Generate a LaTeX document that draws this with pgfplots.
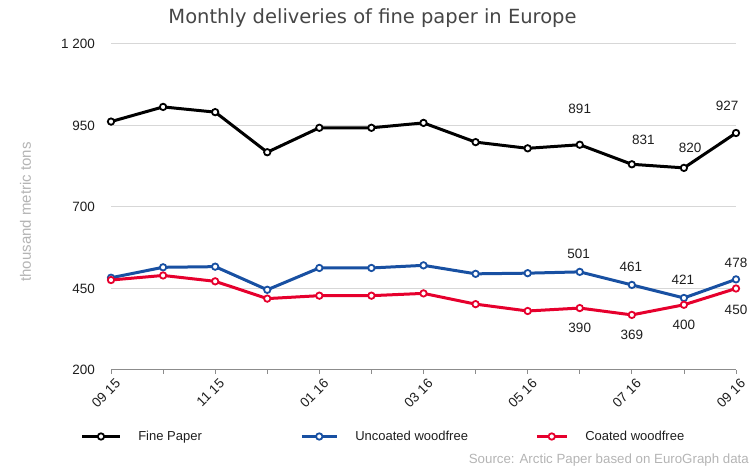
\documentclass[border=0pt]{standalone}
\usepackage{fontspec}
\setmainfont{Liberation Sans}
\newfontfamily\titlefont{DejaVu Sans}
\usepackage{pgfplots}
\pgfplotsset{compat=1.18}
\definecolor{fineC}{RGB}{0,0,0}
\definecolor{uncC}{RGB}{24,80,162}
\definecolor{coatC}{RGB}{230,0,45}
\definecolor{gridC}{RGB}{215,215,215}
\definecolor{axC}{RGB}{140,140,140}
\definecolor{txtC}{RGB}{30,30,30}
\definecolor{titleC}{RGB}{70,70,70}
\definecolor{srcC}{RGB}{180,180,180}
\newcommand{\tfs}{\fontsize{13.5bp}{16bp}\selectfont}
\pgfplotsset{
  fineimg/.style={legend image code/.code={\draw[##1, mark repeat=2, mark phase=2] plot coordinates {(0bp,0bp) (18.8bp,0bp) (37.6bp,0bp)};}},
  uncimg/.style={legend image code/.code={\draw[##1, mark repeat=2, mark phase=2] plot coordinates {(0bp,0bp) (17.5bp,0bp) (35bp,0bp)};}},
  coatimg/.style={legend image code/.code={\draw[##1, mark repeat=2, mark phase=2] plot coordinates {(0bp,0bp) (15bp,0bp) (30bp,0bp)};}},
}
\begin{document}
\begin{tikzpicture}
\useasboundingbox (0,0) rectangle (754bp,470bp);
\begin{axis}[
  scale only axis,
  width=625bp, height=326bp,
  at={(111bp,100bp)}, anchor=south west,
  xmin=0, xmax=12, ymin=200, ymax=1200,
  clip=false,
  separate axis lines,
  axis x line*=bottom,
  axis y line*=left,
  y axis line style={draw=none},
  x axis line style={draw=axC, line width=1bp},
  xtick={0,...,12},
  xticklabels={09 15,,11 15,,01 16,,03 16,,05 16,,07 16,,09 16},
  ytick={200,450,700,950,1200},
  yticklabels={200,450,700,950,{1 200}},
  tick align=outside,
  xtick style={draw=axC, line width=0.8bp},
  ytick style={draw=none},
  major tick length=4bp,
  ymajorgrids,
  grid style={draw=gridC, line width=1bp},
  tick label style={font=\tfs, text=txtC},
  yticklabel style={inner sep=0pt, xshift=-12bp},
  xticklabel style={rotate=45, anchor=north east, inner sep=0pt, yshift=-5bp, xshift=0bp},
  every axis plot/.append style={line width=3bp, mark=*, mark size=3.2bp},
  legend columns=3,
  legend style={draw=none, fill=none, font=\fontsize{13bp}{15bp}\selectfont, text=txtC,
    at={(rel axis cs:-0.0485,-0.204)}, anchor=west, inner sep=0pt, outer sep=0pt,
    cells={anchor=west},
    /tikz/every odd column/.append style={column sep=15bp},
    /tikz/every even column/.append style={column sep=0bp}},
]
\addplot[color=fineC, mark options={fill=white, draw=fineC, line width=1.8bp}, fineimg]
  coordinates {(0,962) (1,1007) (2,991) (3,868) (4,943) (5,943) (6,958) (7,899) (8,880) (9,891) (10,831) (11,820) (12,927)};
\addlegendentry{\makebox[160bp][l]{Fine Paper}}
\addplot[color=uncC, mark options={fill=white, draw=uncC, line width=1.8bp}, uncimg]
  coordinates {(0,483) (1,515) (2,517) (3,446) (4,513) (5,513) (6,521) (7,495) (8,497) (9,501) (10,461) (11,421) (12,478)};
\addlegendentry{\makebox[178bp][l]{Uncoated woodfree}}
\addplot[color=coatC, mark options={fill=white, draw=coatC, line width=1.8bp}, coatimg]
  coordinates {(0,476) (1,490) (2,472) (3,419) (4,428) (5,428) (6,435) (7,402) (8,381) (9,390) (10,369) (11,400) (12,450)};
\addlegendentry{Coated woodfree}
\begin{scope}[every node/.style={font=\tfs, text=txtC, inner sep=0pt}]
\node at (axis cs:9.0,1002) {891};
\node at (axis cs:10.22,905) {831};
\node at (axis cs:11.12,880) {820};
\node at (axis cs:11.83,1011) {927};
\node at (axis cs:8.98,555) {501};
\node at (axis cs:9.98,515) {461};
\node at (axis cs:10.98,476) {421};
\node at (axis cs:12.0,530) {478};
\node at (axis cs:9,328) {390};
\node at (axis cs:10,307) {369};
\node at (axis cs:11,338) {400};
\node at (axis cs:12,386) {450};
\end{scope}
\end{axis}
\node[font=\titlefont\fontsize{19.5bp}{22bp}\selectfont, text=titleC, inner sep=0pt] at (372.5bp,452bp) {Monthly deliveries of fine paper in Europe};
\node[font=\fontsize{15bp}{17bp}\selectfont, text=srcC, rotate=90, inner sep=0pt] at (25.5bp,258bp) {thousand metric tons};
\node[font=\fontsize{13.3bp}{15bp}\selectfont, text=srcC, anchor=east, inner sep=0pt] at (749bp,10bp) {Source: Arctic Paper based on EuroGraph data};
\end{tikzpicture}
\end{document}
